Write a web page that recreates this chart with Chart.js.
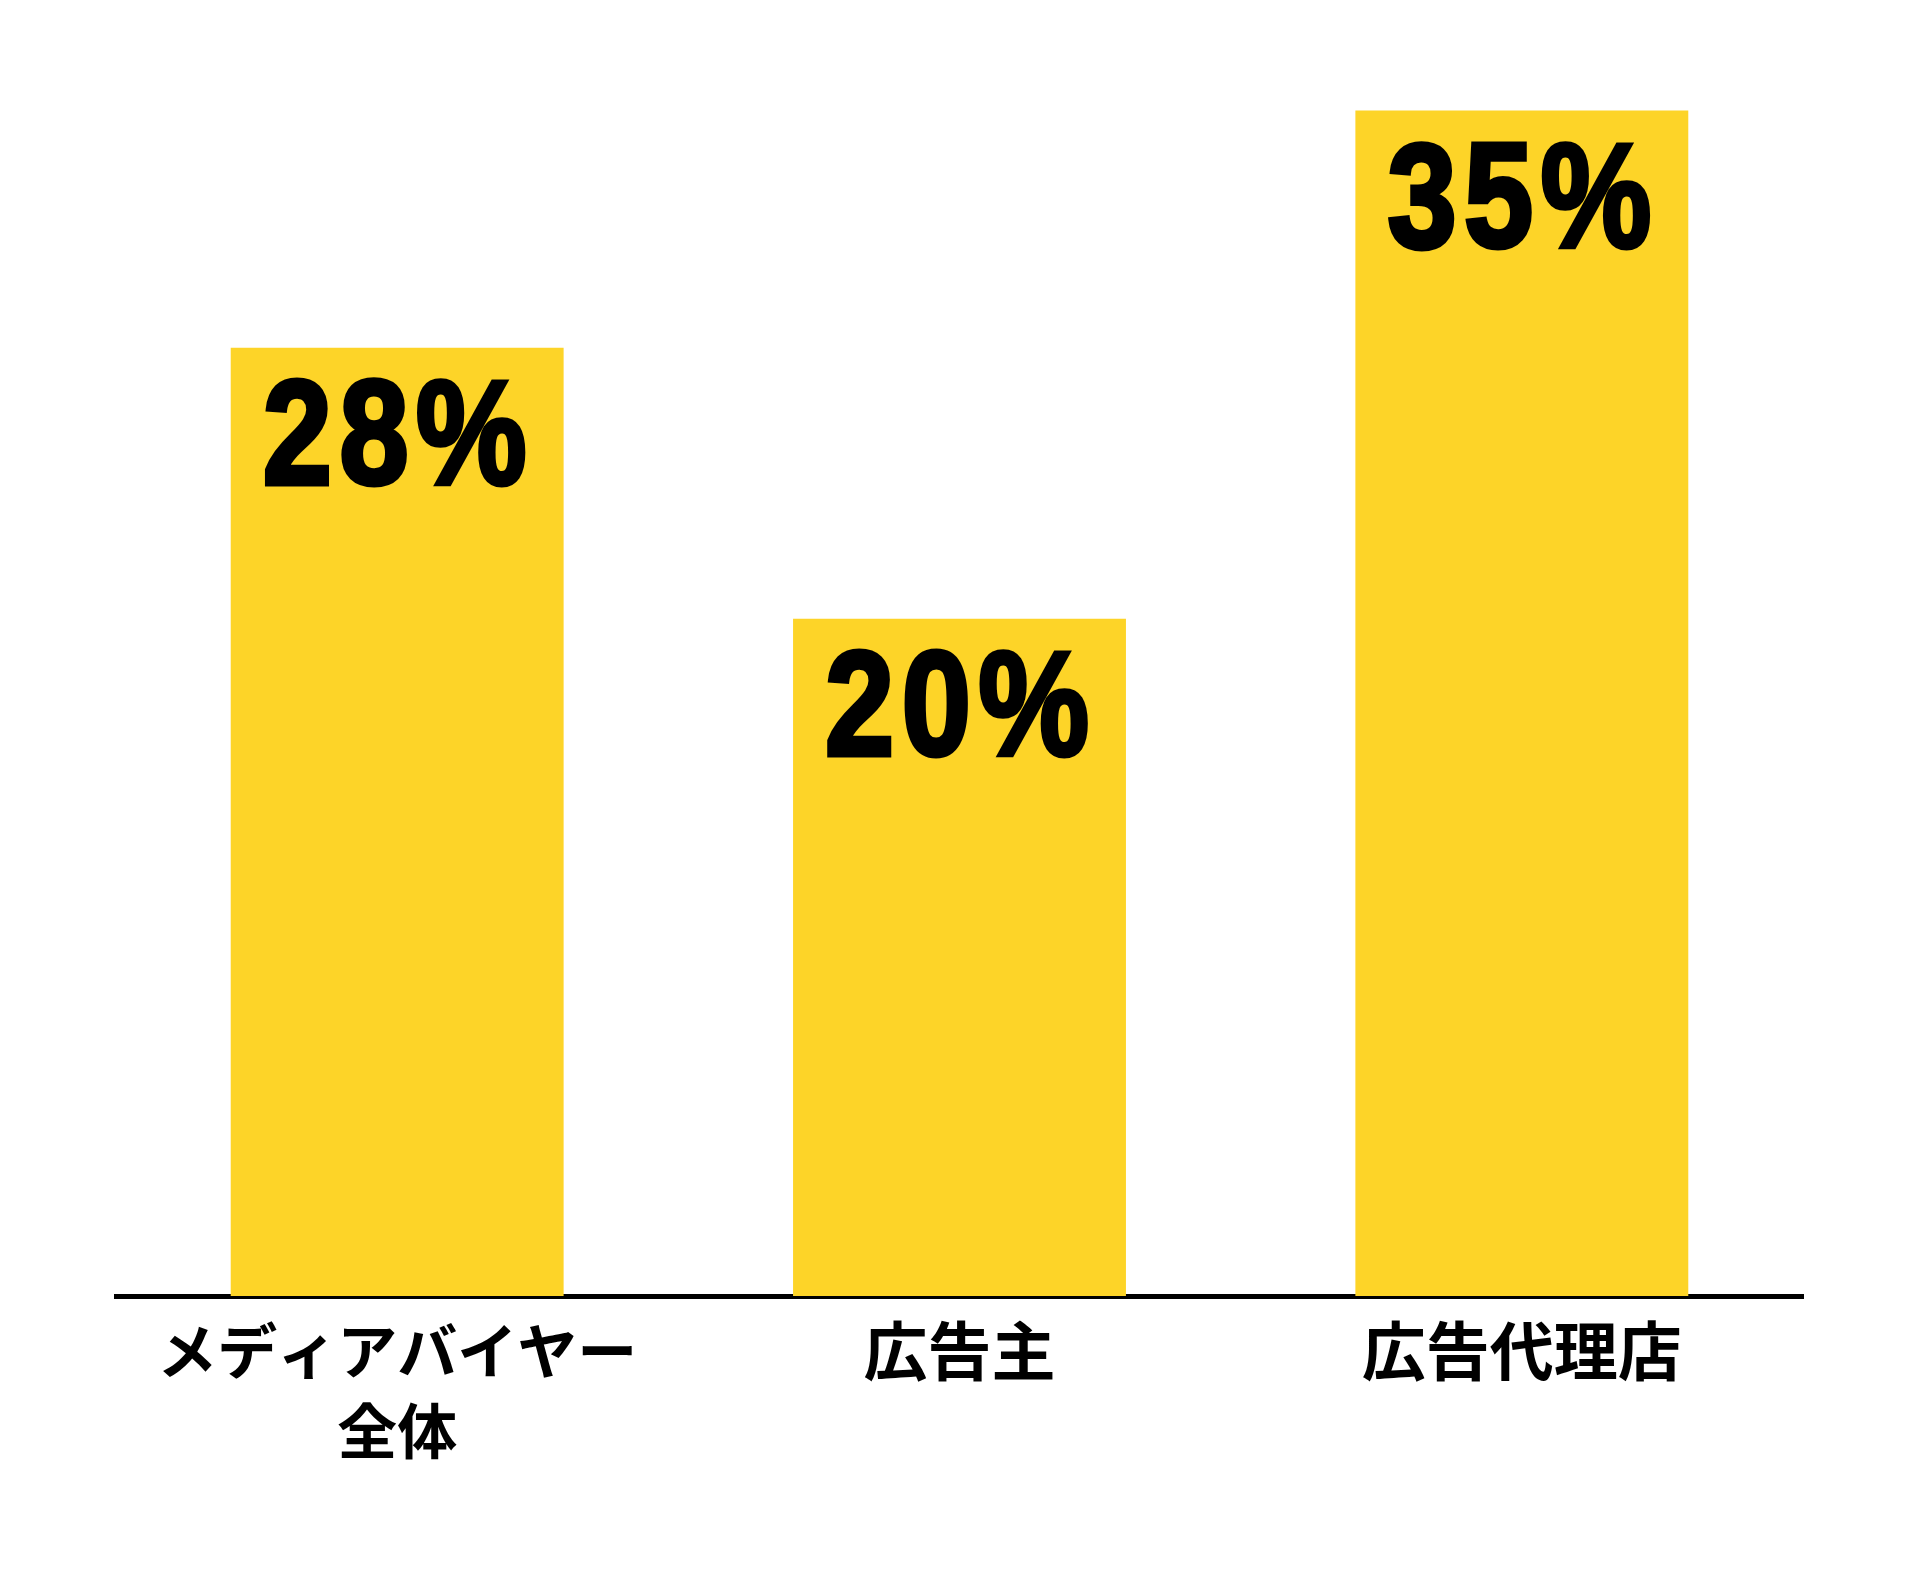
<!DOCTYPE html>
<html lang="ja">
<head>
<meta charset="utf-8">
<title>chart</title>
<script src="https://cdn.jsdelivr.net/npm/chart.js@4.4.1/dist/chart.umd.min.js"></script>
<style>
	html, body { margin: 0; padding: 0; background: #fff; }
	#wrap { width: 1912px; height: 1576px; position: relative; }
</style>
</head>
<body>
<div id="wrap"><canvas id="myChart"></canvas></div>
<script>
const categories = [['メディアバイヤー', '全体'], '広告主', '広告代理店'];
const shares = [28, 20, 35];
const valueLabels = ['28%', '20%', '35%'];

// draws the big percentage inside the top-left of each bar (narrowed heavy sans)
const barValueLabels = {
	id: 'barValueLabels',
	afterDatasetsDraw(chart) {
		const ctx = chart.ctx;
		const meta = chart.getDatasetMeta(0);
		const squeeze = 0.84;
		meta.data.forEach((bar, i) => {
			const x = bar.x - bar.width / 2 + 32;
			const y = bar.y + 136;
			ctx.save();
			ctx.translate(x, y);
			ctx.scale(squeeze, 1);
			ctx.font = 'bold 148px "Liberation Sans", Arial, sans-serif';
			if ('letterSpacing' in ctx) ctx.letterSpacing = '9px';
			ctx.fillStyle = '#000';
			ctx.strokeStyle = '#000';
			ctx.lineWidth = 5;
			ctx.lineJoin = 'miter';
			ctx.textAlign = 'left';
			ctx.textBaseline = 'alphabetic';
			ctx.fillText(valueLabels[i], 0, 0);
			ctx.strokeText(valueLabels[i], 0, 0);
			ctx.restore();
		});
	}
};

const ctx = document.getElementById('myChart');
const myChart = new Chart(ctx, {
	type: 'bar',
	data: {
		labels: categories,
		datasets: [
			{
				data: shares,
				backgroundColor: '#FDD428',
				borderWidth: 0,
				categoryPercentage: 1,
				barPercentage: 0.592
			}
		]
	},
	options: {
		responsive: true,
		maintainAspectRatio: false,
		animation: false,
		layout: {
			padding: { top: 9, left: 116, right: 109, bottom: 0 }
		},
		plugins: {
			legend: { display: false },
			tooltip: { enabled: false }
		},
		scales: {
			y: {
				display: false,
				min: 0,
				max: 38
			},
			x: {
				grid: { display: false },
				border: { display: true, color: '#000', width: 5 },
				ticks: {
					color: '#000',
					autoSkip: false,
					maxRotation: 0,
					padding: 7,
					font: (c) => ({
						family: '"Noto Sans CJK JP", sans-serif',
						size: c.index === 0 ? 60 : 64,
						weight: 'bold',
						lineHeight: '80px'
					})
				},
				afterFit(scale) {
					scale.height = 280;
				}
			}
		}
	},
	plugins: [barValueLabels]
});
</script>
</body>
</html>
